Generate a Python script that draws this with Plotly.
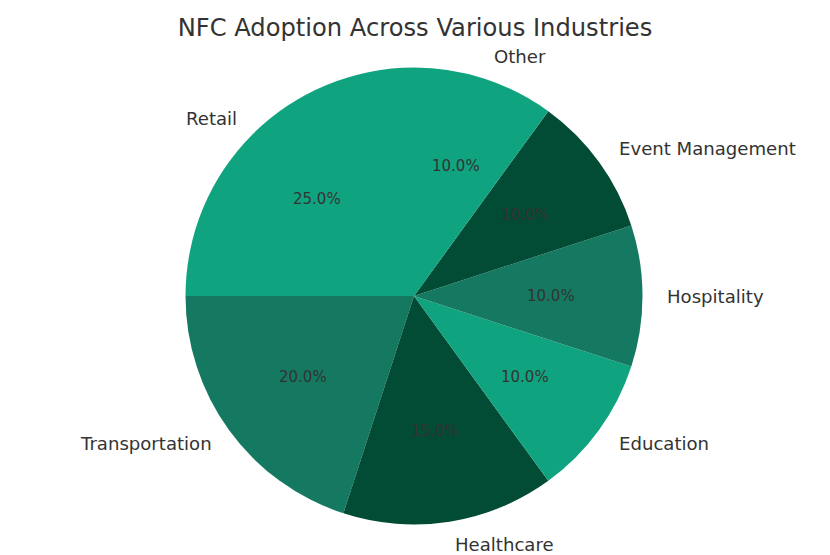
import math
import plotly.graph_objects as go

labels = ["Retail", "Transportation", "Healthcare", "Education", "Hospitality", "Event Management", "Other"]
values = [25, 20, 15, 10, 10, 10, 10]
colors = ["#10a37f", "#147960", "#024b34", "#10a37f", "#147960", "#024b34", "#10a37f"]

W, H = 830, 555
cx, cy = 414, 296  # pixel centre (from top)
r = 228.5
start = 90.0

fig = go.Figure(go.Pie(
    labels=labels, values=values, sort=False, direction="counterclockwise",
    rotation=-90, marker=dict(colors=colors, line=dict(width=0)),
    textinfo="none", showlegend=False, hoverinfo="label+percent",
    domain=dict(x=[(cx - r) / W, (cx + r) / W], y=[(H - cy - r) / H, (H - cy + r) / H]),
))

total = sum(values)
ann = []
ang = start
for lab, v in zip(labels, values):
    span = 360.0 * v / total
    mid = math.radians(ang + span / 2)
    ang += span
    c, s = math.cos(mid), math.sin(mid)
    lx = cx + 1.1 * r * c + (0 if c > 0 else 3)
    ly = (H - cy) + 1.1 * r * s
    ann.append(dict(x=lx / W, y=ly / H, xref="paper", yref="paper", text=lab, showarrow=False,
                    xanchor="left" if c > 0 else "right", yanchor="middle",
                    font=dict(family="DejaVu Sans", size=18.1, color="#333333")))
    px = cx + 0.6 * r * c
    py = (H - cy) + 0.6 * r * s
    ann.append(dict(x=px / W, y=py / H, xref="paper", yref="paper", text=f"{100.0 * v / total:.1f}%",
                    showarrow=False, xanchor="center", yanchor="middle",
                    font=dict(family="DejaVu Sans", size=15, color="#333333")))

fig.update_layout(
    width=W, height=H, margin=dict(l=0, r=0, t=0, b=0),
    paper_bgcolor="white", plot_bgcolor="white",
    title=dict(text="NFC Adoption Across Various Industries", x=0.5, xanchor="center",
               y=1 - 28 / H, yanchor="middle", xref="paper", yref="container",
               font=dict(family="DejaVu Sans", size=24.2, color="#333333")),
    annotations=ann,
)
fig.write_html("out.html")
